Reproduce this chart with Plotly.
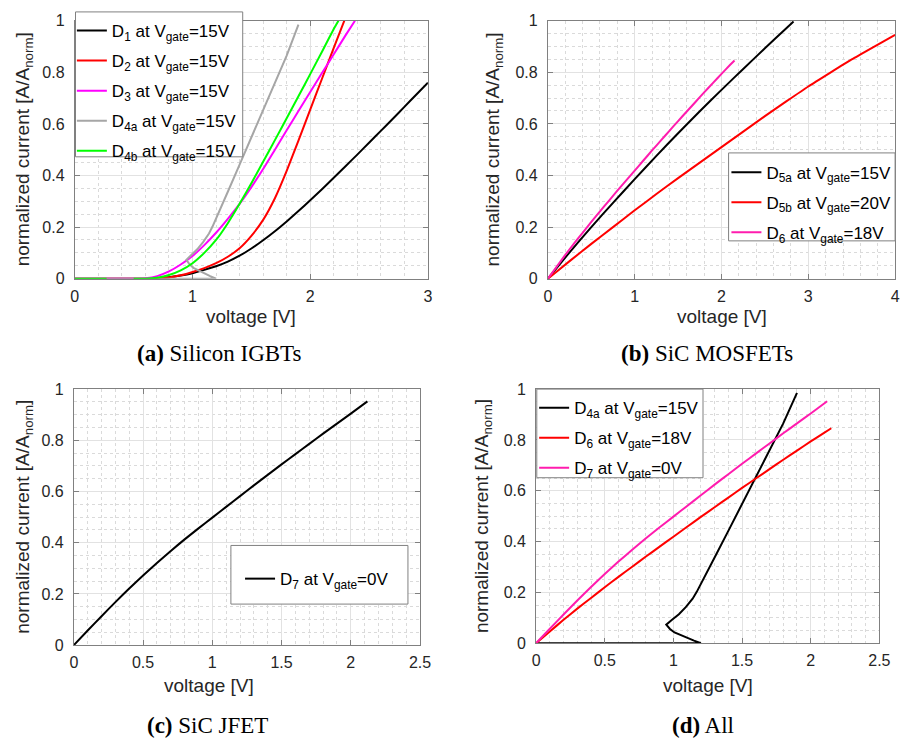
import plotly.graph_objects as go

# ---------------- data ----------------
# (a) Silicon IGBTs
a_d1_v = [0, 0.5, 0.6, 0.7, 0.8, 0.9, 1.0, 1.1, 1.2, 1.3, 1.4, 1.5, 1.6, 1.7, 1.8, 1.9, 2.0, 2.1, 2.2, 2.3, 2.4, 2.5, 2.6, 2.7, 2.8, 2.9, 3.0]
a_d1_i = [0, 0, 0, 0.002, 0.006, 0.012, 0.021, 0.034, 0.048, 0.066, 0.089, 0.117, 0.149, 0.184, 0.222, 0.262, 0.304, 0.347, 0.391, 0.436, 0.481, 0.527, 0.573, 0.619, 0.666, 0.713, 0.76]
a_d2_v = [0, 0.5, 0.6, 0.7, 0.8, 0.9, 1.0, 1.1, 1.2, 1.3, 1.4, 1.5, 1.6, 1.7, 1.8, 1.9, 2.0, 2.1, 2.2, 2.29]
a_d2_i = [0, 0, 0, 0.001, 0.005, 0.013, 0.026, 0.041, 0.06, 0.085, 0.118, 0.166, 0.228, 0.312, 0.418, 0.535, 0.655, 0.775, 0.895, 1.0]
a_d3_v = [0, 0.5, 0.6, 0.7, 0.8, 0.9, 1.0, 1.1, 1.2, 1.3, 1.4, 1.5, 1.6, 1.7, 1.8, 1.9, 2.0, 2.1, 2.2, 2.3, 2.38]
a_d3_i = [0, 0, 0.002, 0.01, 0.028, 0.055, 0.088, 0.13, 0.178, 0.232, 0.29, 0.355, 0.425, 0.5, 0.575, 0.65, 0.724, 0.797, 0.87, 0.943, 1.0]
d4a_v = [0, 0.6, 1.2, 1.15, 1.1, 1.05, 1.008, 0.975, 0.948, 0.99, 1.04, 1.09, 1.14, 1.17, 1.2, 1.3, 1.4, 1.5, 1.6, 1.7, 1.8, 1.9]
d4a_i = [0, 0, 0, 0.01, 0.021, 0.031, 0.042, 0.056, 0.073, 0.092, 0.114, 0.142, 0.175, 0.202, 0.232, 0.337, 0.442, 0.547, 0.652, 0.757, 0.865, 0.985]
a_d4b_v = [0, 0.27, None, 0.5, 0.6, 0.7, 0.8, 0.9, 1.0, 1.1, 1.2, 1.3, 1.4, 1.5, 1.6, 1.7, 1.8, 1.9, 2.0, 2.1, 2.2, 2.24]
a_d4b_i = [0, 0, None, 0, 0, 0.004, 0.014, 0.032, 0.06, 0.1, 0.15, 0.215, 0.29, 0.37, 0.453, 0.537, 0.622, 0.707, 0.793, 0.88, 0.968, 1.0]

# (b) SiC MOSFETs
b_d5a_v = [0, 0.25, 0.5, 0.75, 1.0, 1.25, 1.5, 1.75, 2.0, 2.25, 2.5, 2.75, 2.83]
b_d5a_i = [0, 0.102, 0.2, 0.294, 0.386, 0.476, 0.564, 0.649, 0.732, 0.813, 0.893, 0.972, 0.997]
d5b_v = [0, 0.25, 0.5, 0.75, 1.0, 1.25, 1.5, 1.75, 2.0, 2.25, 2.5, 2.75, 3.0, 3.25, 3.5, 3.75, 4.0]
d5b_i = [0, 0.068, 0.135, 0.2, 0.265, 0.328, 0.39, 0.45, 0.51, 0.57, 0.63, 0.688, 0.745, 0.798, 0.85, 0.898, 0.945]
d6_v = [0, 0.1, 0.2, 0.3, 0.4, 0.5, 0.6, 0.7, 0.8, 0.9, 1.0, 1.1, 1.2, 1.3, 1.4, 1.5, 1.6, 1.7, 1.8, 1.9, 2.0, 2.1, 2.15]
d6_i = [0, 0.046, 0.092, 0.136, 0.178, 0.22, 0.261, 0.301, 0.341, 0.38, 0.419, 0.458, 0.497, 0.535, 0.573, 0.611, 0.648, 0.685, 0.722, 0.758, 0.794, 0.829, 0.846]

# (c) SiC JFET
d7_v = [0, 0.1, 0.2, 0.3, 0.4, 0.5, 0.6, 0.7, 0.8, 0.9, 1.0, 1.1, 1.2, 1.3, 1.4, 1.5, 1.6, 1.7, 1.8, 1.9, 2.0, 2.12]
d7_i = [0, 0.057, 0.113, 0.168, 0.221, 0.272, 0.321, 0.368, 0.413, 0.456, 0.498, 0.54, 0.582, 0.624, 0.665, 0.706, 0.746, 0.786, 0.826, 0.865, 0.904, 0.952]

# tick labels
y_ticks = [0, 0.2, 0.4, 0.6, 0.8, 1]
y_ticktext = ["0", "0.2", "0.4", "0.6", "0.8", "1"]
a_xticks = [0, 1, 2, 3]
a_xtext = ["0", "1", "2", "3"]
b_xticks = [0, 1, 2, 3, 4]
b_xtext = ["0", "1", "2", "3", "4"]
cd_xticks = [0, 0.5, 1, 1.5, 2, 2.5]
cd_xtext = ["0", "0.5", "1", "1.5", "2", "2.5"]

names = {
    "d1": "D<sub>1</sub> at V<sub>gate</sub>=15V",
    "d2": "D<sub>2</sub> at V<sub>gate</sub>=15V",
    "d3": "D<sub>3</sub> at V<sub>gate</sub>=15V",
    "d4a": "D<sub>4a</sub> at V<sub>gate</sub>=15V",
    "d4b": "D<sub>4b</sub> at V<sub>gate</sub>=15V",
    "d5a": "D<sub>5a</sub> at V<sub>gate</sub>=15V",
    "d5b": "D<sub>5b</sub> at V<sub>gate</sub>=20V",
    "d6": "D<sub>6</sub> at V<sub>gate</sub>=18V",
    "d7": "D<sub>7</sub> at V<sub>gate</sub>=0V",
}
captions = ["<b>(a)</b> Silicon IGBTs", "<b>(b)</b> SiC MOSFETs", "<b>(c)</b> SiC JFET", "<b>(d)</b> All"]

# ---------------- figure ----------------
W, H = 912, 745
def fx(p):
    return p / W
def fy(p):
    return 1 - p / H

PINK = "#ff1cae"
fig = go.Figure()

def add(xa, ya, v, i, key, color, legend, smooth=True):
    ln = dict(color=color, width=2)
    if smooth:
        ln.update(shape="spline", smoothing=0.5)
    fig.add_trace(go.Scatter(x=v, y=i, mode="lines", name=names[key], line=ln,
                             xaxis=xa, yaxis=ya,
                             legend=legend, legendgroup=key + legend, connectgaps=False))

add("x", "y", a_d1_v, a_d1_i, "d1", "#000000", "legend")
add("x", "y", a_d2_v, a_d2_i, "d2", "#ff0000", "legend")
add("x", "y", a_d3_v, a_d3_i, "d3", "#ff00ff", "legend")
add("x", "y", d4a_v, d4a_i, "d4a", "#a6a6a6", "legend", smooth=False)
add("x", "y", a_d4b_v, a_d4b_i, "d4b", "#00ff00", "legend")

add("x2", "y2", b_d5a_v, b_d5a_i, "d5a", "#000000", "legend2")
add("x2", "y2", d5b_v, d5b_i, "d5b", "#ff0000", "legend2")
add("x2", "y2", d6_v, d6_i, "d6", PINK, "legend2")

add("x3", "y3", d7_v, d7_i, "d7", "#000000", "legend3")

add("x4", "y4", d4a_v, d4a_i, "d4a", "#000000", "legend4", smooth=False)
add("x4", "y4", d6_v, d6_i, "d6", "#ff0000", "legend4")
add("x4", "y4", d7_v, d7_i, "d7", PINK, "legend4")

TICKFONT = dict(family="Liberation Sans, Arial", size=16, color="#262626")
LABELFONT = dict(family="Liberation Sans, Arial", size=19, color="#262626")
LEGFONT = dict(family="Liberation Sans, Arial", size=17, color="#000000")

def axis(dom, rng, tv, tt, minor_dt, anchor, standoff):
    return dict(domain=dom, range=rng, tickmode="array", tickvals=tv, ticktext=tt,
                showline=True, linecolor="#808080", linewidth=1, mirror="ticks",
                ticks="inside", ticklen=5, tickcolor="#808080",
                showgrid=True, gridcolor="#e2e2e2", gridwidth=1, zeroline=False,
                tickfont=TICKFONT, anchor=anchor, ticklabelstandoff=standoff,
                minor=dict(dtick=minor_dt, tick0=0, showgrid=True, gridcolor="#dadada",
                           griddash="dot", gridwidth=1, ticks=""))

# plot areas (pixels)
A = (72, 431, 13, 277)
B = (553, 906, 13, 277)
C = (71, 423, 390, 652)
D = (541, 890, 390, 650)

def dom(box):
    return [fx(box[0]), fx(box[1])], [fy(box[3]), fy(box[2])]

ax, ay = dom(A); bx, by = dom(B); cx, cy = dom(C); dx, dy = dom(D)
fig.update_layout(
    xaxis=axis(ax, [0, 3], a_xticks, a_xtext, 0.2, "y", 3),
    yaxis=axis(ay, [0, 1], y_ticks, y_ticktext, 0.05, "x", 6),
    xaxis2=axis(bx, [0, 4], b_xticks, b_xtext, 0.2, "y2", 3),
    yaxis2=axis(by, [0, 1], y_ticks, y_ticktext, 0.05, "x2", 6),
    xaxis3=axis(cx, [0, 2.5], cd_xticks, cd_xtext, 0.1, "y3", 3),
    yaxis3=axis(cy, [0, 1], y_ticks, y_ticktext, 0.05, "x3", 6),
    xaxis4=axis(dx, [0, 2.5], cd_xticks, cd_xtext, 0.1, "y4", 3),
    yaxis4=axis(dy, [0, 1], y_ticks, y_ticktext, 0.05, "x4", 6),
)

# legend boxes (pixels: x0, x1, y0, y1)
legboxes = [(72.7, 242.7, 4, 152.3), (736.7, 906, 148.3, 238.3), (230.7, 410.7, 550, 610), (541.7, 710.7, 390, 480.7)]
shapes = []
for (x0, x1, y0, y1) in legboxes:
    shapes.append(dict(type="rect", xref="paper", yref="paper", x0=fx(x0), x1=fx(x1), y0=fy(y1), y1=fy(y0),
                       line=dict(color="#808080", width=1), fillcolor="white", layer="above"))

def leg(x, y):
    return dict(x=fx(x), y=fy(y), xanchor="left", yanchor="top", bgcolor="rgba(0,0,0,0)",
                borderwidth=0, font=LEGFONT, traceorder="grouped", tracegroupgap=5, itemwidth=30)

fig.update_layout(
    width=W, height=H, margin=dict(l=0, r=0, t=0, b=0),
    paper_bgcolor="white", plot_bgcolor="white", shapes=shapes,
    showlegend=True,
    legend=leg(69, 5),
    legend2=leg(734.5, 150),
    legend3=leg(240, 566),
    legend4=leg(539, 391),
)

anns = []
# x labels
for (x, y) in [(251.5, 316), (729.5, 316), (208, 693), (715.5, 693)]:
    anns.append(dict(text="voltage [V]", x=fx(x), y=fy(y), xref="paper", yref="paper",
                     showarrow=False, font=LABELFONT, xanchor="center", yanchor="middle"))
# y labels
for (x, y) in [(20, 145), (498, 145), (20, 521), (487, 520)]:
    anns.append(dict(text="normalized current [A/A<sub>norm</sub>]", x=fx(x), y=fy(y), xref="paper", yref="paper",
                     showarrow=False, font=LABELFONT, textangle=-90, xanchor="center", yanchor="middle"))
# captions
for cap, (x, y) in zip(captions, [(219, 354), (715, 354), (207, 734), (711, 734)]):
    anns.append(dict(text=cap, x=fx(x), y=fy(y), xref="paper", yref="paper", showarrow=False,
                     font=dict(family="Liberation Serif, Times New Roman", size=23, color="#000000"),
                     xanchor="center", yanchor="middle"))
fig.update_layout(annotations=anns)

fig.write_html("out.html")
